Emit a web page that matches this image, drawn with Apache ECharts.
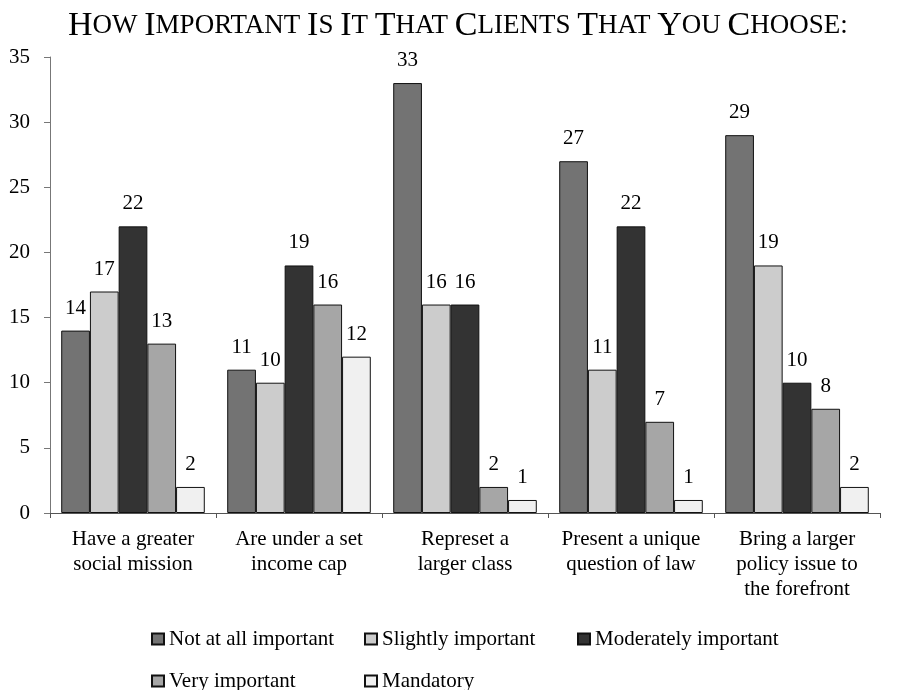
<!DOCTYPE html>
<html>
<head>
<meta charset="utf-8">
<script src="https://cdn.jsdelivr.net/npm/echarts@6/dist/echarts.min.js"></script>
<style>html,body{margin:0;padding:0;background:#fff}#c{width:898px;height:690px}</style>
</head>
<body>
<div id="c"></div>
<script>
const categories = ["Have a greater\nsocial mission", "Are under a set\nincome cap", "Represet a\nlarger class", "Present a unique\nquestion of law", "Bring a larger\npolicy issue to\nthe forefront"];
const seriesNames = ["Not at all important", "Slightly important", "Moderately important", "Very important", "Mandatory"];
const notAtAll = [14, 11, 33, 27, 29];
const slightly = [17, 10, 16, 11, 19];
const moderately = [22, 19, 16, 22, 10];
const very = [13, 16, 2, 7, 8];
const mandatory = [2, 12, 1, 1, 2];
const yTicks = [0, 5, 10, 15, 20, 25, 30, 35];
const colors = ["#737373", "#cccccc", "#333333", "#a6a6a6", "#f0f0f0"];

const values = [notAtAll, slightly, moderately, very, mandatory];
const FONT = "'Liberation Serif', 'Times New Roman', serif";

const chart = echarts.init(document.getElementById('c'));
const series = seriesNames.map((n, i) => ({
  name: n,
  type: 'bar',
  data: values[i],
  barGap: '0%',
  barCategoryGap: '13.5%',
  itemStyle: { color: colors[i], borderColor: '#111', borderWidth: 1 },
  label: { show: true, position: 'top', distance: 12, color: '#000', fontFamily: FONT, fontSize: 21 },
  emphasis: { disabled: true }
}));

function smallCaps(str) {
  return str.split(' ').map(w => '{b|' + w[0].toUpperCase() + '}' + (w.length > 1 ? '{s|' + w.slice(1).toUpperCase() + '}' : '')).join('{s| }');
}

const legendText = { fontFamily: FONT, fontSize: 21, color: '#000', width: 185, lineHeight: 22 };
chart.setOption({
  animation: false,
  title: {
    text: smallCaps("How Important Is It That Clients That You Choose:"),
    left: 63, top: 4,
    textStyle: {
      rich: {
        b: { fontFamily: FONT, fontSize: 34, fontWeight: 'normal', color: '#000' },
        s: { fontFamily: FONT, fontSize: 27, fontWeight: 'normal', color: '#000' }
      }
    }
  },
  grid: { left: 50, right: 18, top: 57, bottom: 177 },
  legend: [
    { data: seriesNames.slice(0, 3), left: 146, top: 623, icon: 'rect', itemWidth: 12, itemHeight: 11, itemGap: 10, textStyle: legendText, selectedMode: false },
    { data: seriesNames.slice(3), left: 146, top: 665, icon: 'rect', itemWidth: 12, itemHeight: 11, itemGap: 10, textStyle: legendText, selectedMode: false }
  ],
  xAxis: {
    type: 'category', data: categories,
    axisLine: { lineStyle: { color: '#555', width: 1 } },
    axisTick: { show: true, length: 5, lineStyle: { color: '#555' } },
    axisLabel: { fontFamily: FONT, fontSize: 21, color: '#000', lineHeight: 25, margin: 14, interval: 0 }
  },
  yAxis: {
    type: 'value', min: 0, max: 35, interval: 5,
    axisLine: { show: true, lineStyle: { color: '#777', width: 1 } },
    axisTick: { show: true, length: 6, lineStyle: { color: '#777' } },
    axisLabel: { fontFamily: FONT, fontSize: 21, color: '#000', margin: 20, formatter: v => yTicks.includes(v) ? String(v) : '' },
    splitLine: { show: false }
  },
  series: series
});
</script>
</body>
</html>
